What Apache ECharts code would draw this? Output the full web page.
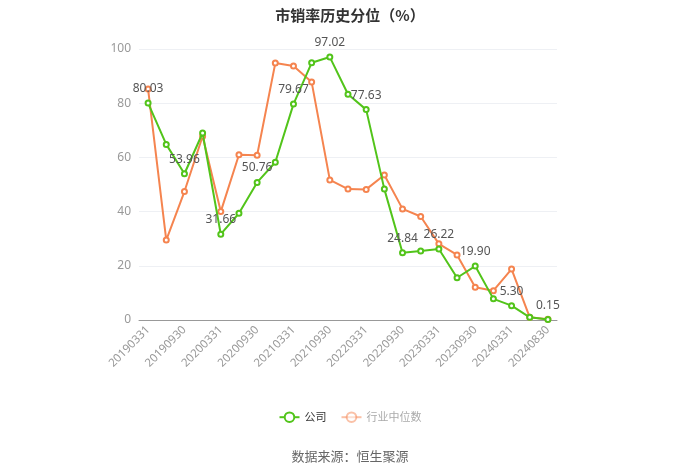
<!DOCTYPE html>
<html>
<head>
<meta charset="utf-8">
<script src="https://cdn.jsdelivr.net/npm/echarts@6/dist/echarts.min.js"></script>
<style>html,body{margin:0;padding:0;background:#fff;}#c{width:700px;height:474px;}</style>
</head>
<body>
<div id="c"></div>
<script>
const categories = ['20190331','20190630','20190930','20191231','20200331','20200630','20200930','20201231','20210331','20210630','20210930','20211231','20220331','20220630','20220930','20221231','20230331','20230630','20230930','20231231','20240331','20240630','20240830'];
const companyValues = [80.03,64.8,53.96,69.0,31.66,39.4,50.76,58.2,79.67,94.9,97.02,83.3,77.63,48.3,24.84,25.5,26.22,15.6,19.90,7.8,5.30,1.0,0.15];
const industryValues = [85.2,29.5,47.4,67.8,40.0,61.0,60.8,94.8,93.7,87.8,51.7,48.3,48.2,53.5,41.0,38.2,28.1,24.0,12.1,10.8,18.8,1.0,0.3];
const yTicks = [0,20,40,60,80,100];

const green = '#52c41a';
const orange = '#f5844f';
const chart = echarts.init(document.getElementById('c'));
chart.setOption({
  animation: false,
  title: {
    text: '市销率历史分位（%）',
    left: 'center', top: 3,
    textStyle: {fontSize: 15, fontWeight: 'bold', color: '#333', fontFamily: 'Noto Sans CJK SC'}
  },
  legend: {
    bottom: 46, left: 'center',
    itemWidth: 20, itemHeight: 12, itemGap: 14,
    textStyle: {fontSize: 11, color: '#333', fontFamily: 'Noto Sans CJK SC'},
    data: [
      {name: '公司'},
      {name: '行业中位数', itemStyle: {opacity: 0.5}, lineStyle: {opacity: 0.5}, textStyle: {color: '#aaa'}}
    ]
  },
  grid: {left: 139, right: 143, top: 49, bottom: 154},
  xAxis: {
    type: 'category',
    data: categories,
    boundaryGap: true,
    axisLine: {lineStyle: {color: '#999'}},
    axisTick: {alignWithLabel: true, interval: 1, lineStyle: {color: '#999'}},
    axisLabel: {interval: 1, rotate: 45, color: '#999', fontSize: 11.5, fontFamily: 'Noto Sans'}
  },
  yAxis: {
    type: 'value',
    min: yTicks[0], max: yTicks[yTicks.length-1], interval: 20,
    axisLine: {show: false}, axisTick: {show: false},
    axisLabel: {color: '#999', fontSize: 12, fontFamily: 'Noto Sans'},
    splitLine: {lineStyle: {color: '#eef0f4'}}
  },
  graphic: [{
    type: 'text', left: 'center', top: 450,
    style: {text: '数据来源：恒生聚源', fill: '#666', fontSize: 13, fontFamily: 'Noto Sans CJK SC'}
  }],
  series: [
    {
      name: '公司', type: 'line', data: companyValues,
      symbol: 'emptyCircle', symbolSize: 5, z: 3,
      itemStyle: {color: green}, lineStyle: {color: green, width: 2},
      label: {
        show: true, position: 'top', color: '#555', fontSize: 12, fontFamily: 'Noto Sans',
        formatter: p => p.dataIndex % 2 === 0 ? p.value.toFixed(2) : ''
      }
    },
    {
      name: '行业中位数', type: 'line', data: industryValues,
      symbol: 'emptyCircle', symbolSize: 5, z: 2,
      itemStyle: {color: orange}, lineStyle: {color: orange, width: 2}
    }
  ]
});
</script>
</body>
</html>
